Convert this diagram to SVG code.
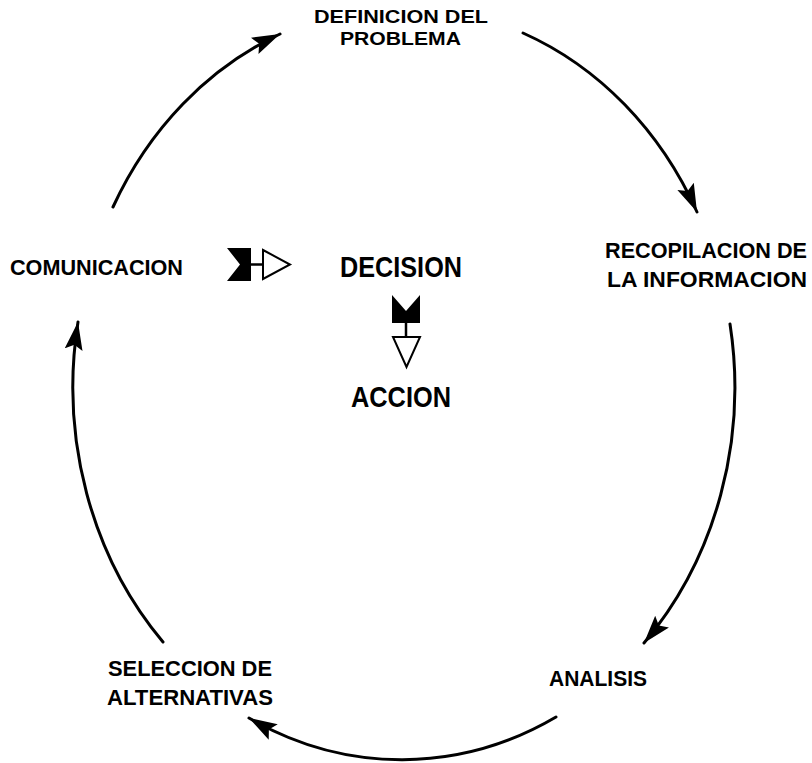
<svg xmlns="http://www.w3.org/2000/svg" width="812" height="763" viewBox="0 0 812 763">
  <style>
    .lbl { font-family: "Liberation Sans", Arial, Helvetica, sans-serif; font-weight: bold; font-size: 22px; fill: #000; }
    .top { font-size: 19px; }
    .big { font-family: "Liberation Sans", Arial, Helvetica, sans-serif; font-weight: bold; font-size: 30px; fill: #000; }
    .arc { fill: none; stroke: #000; stroke-width: 3; stroke-linecap: round; marker-end: url(#head); }
    .solid { fill: #000; stroke: none; }
    .open { fill: #fff; stroke: #000; stroke-width: 2; stroke-linejoin: miter; }
    .stem { stroke: #000; stroke-width: 2.5; fill: none; }
  </style>
  <defs>
    <marker id="head" markerUnits="userSpaceOnUse" markerWidth="32" markerHeight="22" refX="28" refY="9" orient="auto" viewBox="0 0 32 22">
      <path d="M0,0 L28,9 L0,18 L5,9 z" fill="#000"/>
    </marker>
  </defs>
  <rect width="812" height="763" fill="#fff"/>

  <!-- cycle connectors -->
  <g id="connectors">
    <path class="arc" d="M113,207 A332,372 0 0 1 280,34"/>
    <path class="arc" d="M523,33 A332,372 0 0 1 697,212"/>
    <path class="arc" d="M730,324 A332,372 0 0 1 644,643"/>
    <path class="arc" d="M556,717 A332,372 0 0 1 249,718"/>
    <path class="arc" d="M163,642 A332,372 0 0 1 78,322"/>
  </g>

  <!-- stage labels -->
  <g id="definicion">
    <text class="lbl top" x="314" y="23" textLength="174" lengthAdjust="spacingAndGlyphs">DEFINICION DEL</text>
    <text class="lbl top" x="340" y="45" textLength="121" lengthAdjust="spacingAndGlyphs">PROBLEMA</text>
  </g>
  <g id="recopilacion">
    <text class="lbl" x="605" y="258" textLength="202" lengthAdjust="spacingAndGlyphs">RECOPILACION DE</text>
    <text class="lbl" x="607" y="287" textLength="200" lengthAdjust="spacingAndGlyphs">LA INFORMACION</text>
  </g>
  <g id="analisis">
    <text class="lbl" x="549" y="686" textLength="98" lengthAdjust="spacingAndGlyphs">ANALISIS</text>
  </g>
  <g id="seleccion">
    <text class="lbl" x="108" y="676" textLength="164" lengthAdjust="spacingAndGlyphs">SELECCION DE</text>
    <text class="lbl" x="107" y="705" textLength="166" lengthAdjust="spacingAndGlyphs">ALTERNATIVAS</text>
  </g>
  <g id="comunicacion">
    <text class="lbl" x="10" y="275" textLength="173" lengthAdjust="spacingAndGlyphs">COMUNICACION</text>
  </g>

  <!-- centre -->
  <g id="decision">
    <text class="big" x="340" y="277" textLength="122" lengthAdjust="spacingAndGlyphs">DECISION</text>
  </g>
  <g id="accion">
    <text class="big" x="351" y="407" textLength="100" lengthAdjust="spacingAndGlyphs">ACCION</text>
  </g>

  <!-- link symbols: notched block, stem, open triangle -->
  <g id="link-comunicacion-decision">
    <path class="solid" d="M227,248 L251,248 L251,281 L227,281 L240,264.5 z"/>
    <line class="stem" x1="251" y1="264.5" x2="263" y2="264.5"/>
    <path class="open" d="M263,250 L290,264.5 L263,279 z"/>
  </g>
  <g id="link-decision-accion">
    <path class="solid" d="M392,295 L406,311 L420,295 L420,323 L392,323 z"/>
    <line class="stem" x1="406" y1="323" x2="406" y2="337"/>
    <path class="open" d="M393,337 L420,337 L406.5,367 z"/>
  </g>
</svg>
